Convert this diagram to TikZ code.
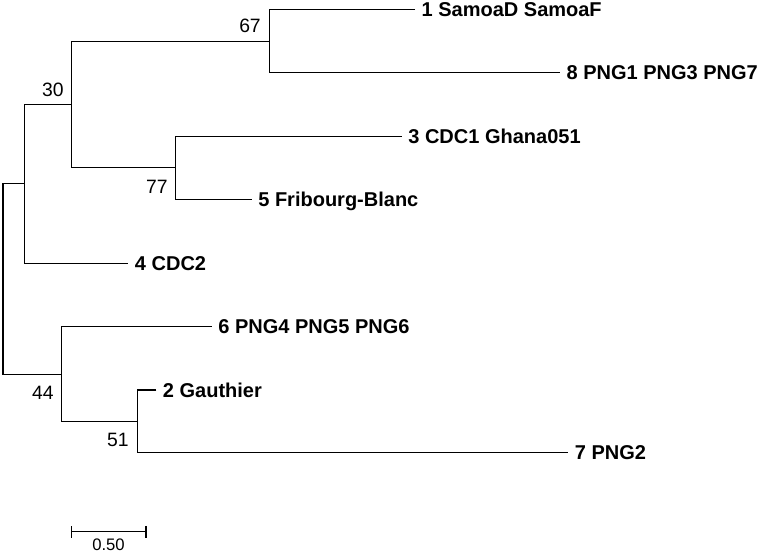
\documentclass[tikz,border=0pt]{standalone}
\usepackage{fontspec}
\setmainfont{Liberation Sans}
\usetikzlibrary{arrows.meta}

\begin{document}
\begin{tikzpicture}[x=0.75pt,y=-0.75pt,
    branch/.style={line width=0.95pt},
    leaf/.style={anchor=west,inner xsep=4.8pt,inner ysep=0pt,
      text height=10.7pt,text depth=0pt,
      font=\fontsize{15}{18}\selectfont\bfseries},
    boot/.style={inner sep=0pt,font=\fontsize{14.5}{17}\selectfont}]

        \useasboundingbox (0,0) rectangle (779,553);

        %------------------
        % 内部節点
        %------------------
        \coordinate (root) at (3,278.8);
        \coordinate (a)    at (24.3,183.3);
        \coordinate (n30)  at (71.7,104.3);
        \coordinate (n67)  at (269.3,41.3);
        \coordinate (n77)  at (175.7,167.7);
        \coordinate (n44)  at (61.7,374.3);
        \coordinate (n51)  at (137.3,421.7);

        %------------------
        % 葉
        %------------------
        \node[leaf] (l1) at (415,9.3)    {1 SamoaD SamoaF};
        \node[leaf] (l8) at (560,72.3)   {8 PNG1 PNG3 PNG7};
        \node[leaf] (l3) at (401.7,136.7){3 CDC1 Ghana051};
        \node[leaf] (l5) at (251.7,199.3){5 Fribourg-Blanc};
        \node[leaf] (l4) at (128.3,263.3){4 CDC2};
        \node[leaf] (l6) at (211.7,326.7){6 PNG4 PNG5 PNG6};
        \node[leaf] (l2) at (156.3,390)  {2 Gauthier};
        \node[leaf] (l7) at (568.3,452.3){7 PNG2};

        %------------------
        % 枝
        %------------------
        \draw[branch] (l1.west) -| (n67) |- (l8.west);
        \draw[branch] (l3.west) -| (n77) |- (l5.west);
        \draw[branch] (n67) -| (n30) |- (n77);
        \draw[branch] (n30) -| (a) |- (l4.west);
        \draw[branch] (l2.west) -| (n51) |- (l7.west);
        \draw[branch] (l6.west) -| (n44) |- (n51);
        \draw[branch] (a) -| (root) |- (n44);

        % ブートストラップ値
        \node[boot] (b67) at (250,26)  {67};
        \node[boot] (b30) at (53,90)   {30};
        \node[boot] (b77) at (157,187) {77};
        \node[boot] (b44) at (43,393)  {44};
        \node[boot] (b51) at (118,440) {51};

        %------------------
        % スケール
        %------------------
        \coordinate (s1) at (71,531.7);
        \coordinate (s2) at (146.7,531.7);
        \draw[branch,{Bar[width=8.8pt]}-{Bar[width=8.8pt]}] (s1) -- (s2);
        \node[font=\fontsize{12.5}{14}\selectfont] (sl) at (108.5,545) {0.50};
      \end{tikzpicture}
\end{document}
